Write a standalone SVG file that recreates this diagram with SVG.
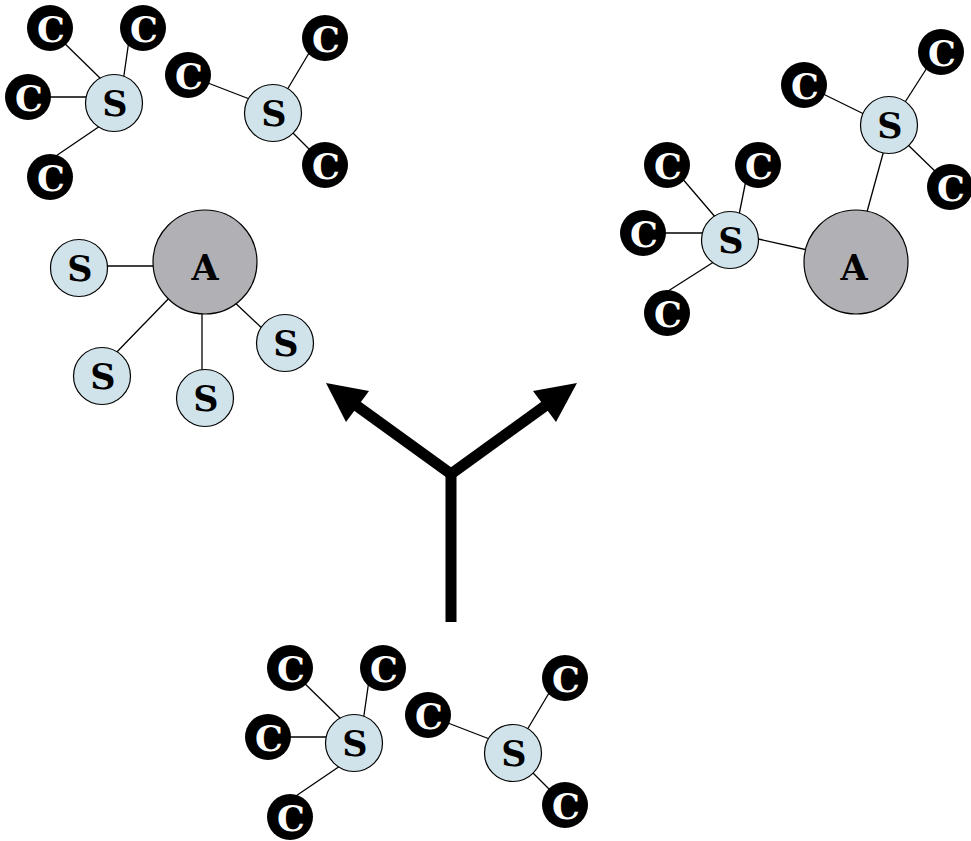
<svg xmlns="http://www.w3.org/2000/svg" width="971" height="841" viewBox="0 0 971 841">
<defs>
<style>
.e{stroke:#000;stroke-width:1.3;fill:none}
.s circle{fill:#d1e3ea;stroke:#000;stroke-width:1.2}
.a circle{fill:#b1b1b5;stroke:#000;stroke-width:1.2}
.c circle{fill:#000}
text{font-family:"DejaVu Serif","Liberation Serif",serif;font-weight:bold;font-size:35px;text-anchor:middle}
.s text,.a text{fill:#000}
.c text{fill:#fff}
.arr{stroke:#000;stroke-width:11;fill:none;stroke-linejoin:miter}
</style>
</defs>
<rect width="971" height="841" fill="#fff"/>
<g id="connectors">
<line class="e" x1="55" y1="34" x2="102" y2="80"/>
<line class="e" x1="129" y1="40" x2="123" y2="82"/>
<line class="e" x1="35" y1="97" x2="92" y2="97"/>
<line class="e" x1="50" y1="160" x2="100" y2="126"/>
<line class="e" x1="195" y1="78" x2="252" y2="100"/>
<line class="e" x1="312" y1="48" x2="284" y2="95"/>
<line class="e" x1="288" y1="128" x2="318" y2="158"/>
<line class="e" x1="295" y1="674" x2="342" y2="720"/>
<line class="e" x1="369" y1="680" x2="363" y2="722"/>
<line class="e" x1="275" y1="737" x2="332" y2="737"/>
<line class="e" x1="290" y1="800" x2="340" y2="766"/>
<line class="e" x1="435" y1="718" x2="492" y2="740"/>
<line class="e" x1="552" y1="688" x2="524" y2="735"/>
<line class="e" x1="528" y1="768" x2="558" y2="798"/>
<line class="e" x1="100" y1="266" x2="160" y2="266"/>
<line class="e" x1="175" y1="292" x2="112" y2="357"/>
<line class="e" x1="202" y1="300" x2="202" y2="375"/>
<line class="e" x1="230" y1="298" x2="266" y2="332"/>
<line class="e" x1="815" y1="90" x2="870" y2="117"/>
<line class="e" x1="932" y1="60" x2="900" y2="110"/>
<line class="e" x1="905" y1="142" x2="940" y2="176"/>
<line class="e" x1="884" y1="150" x2="862" y2="230"/>
<line class="e" x1="675" y1="170" x2="722" y2="225"/>
<line class="e" x1="747" y1="175" x2="737" y2="225"/>
<line class="e" x1="655" y1="233" x2="712" y2="233"/>
<line class="e" x1="665" y1="293" x2="720" y2="258"/>
<line class="e" x1="745" y1="236" x2="830" y2="255"/>
<path class="arr" d="M451,622 L451,472"/>
<path class="arr" d="M357,406 L451,474 L545,406"/>
<polygon points="326,383 369,391 346,422" fill="#000"/>
<polygon points="577,383 533,391 556,422" fill="#000"/>
</g>
<g id="tl-s1" class="s"><circle cx="114" cy="103" r="28.5"/><text x="115" y="116">S</text></g>
<g id="tl-c1" class="c"><circle cx="50" cy="28" r="23"/><text x="51" y="42">C</text></g>
<g id="tl-c2" class="c"><circle cx="143" cy="28" r="23"/><text x="144" y="42">C</text></g>
<g id="tl-c3" class="c"><circle cx="28" cy="97" r="23"/><text x="29" y="111">C</text></g>
<g id="tl-c4" class="c"><circle cx="50" cy="177" r="23"/><text x="51" y="191">C</text></g>
<g id="tl-s2" class="s"><circle cx="273" cy="113" r="28.5"/><text x="274" y="126">S</text></g>
<g id="tl-c5" class="c"><circle cx="188" cy="75" r="23"/><text x="189" y="89">C</text></g>
<g id="tl-c6" class="c"><circle cx="325" cy="38" r="23"/><text x="326" y="52">C</text></g>
<g id="tl-c7" class="c"><circle cx="325" cy="165" r="23"/><text x="326" y="179">C</text></g>
<g id="b-s1" class="s"><circle cx="354" cy="743" r="28.5"/><text x="355" y="756">S</text></g>
<g id="b-c1" class="c"><circle cx="290" cy="668" r="23"/><text x="291" y="682">C</text></g>
<g id="b-c2" class="c"><circle cx="383" cy="668" r="23"/><text x="384" y="682">C</text></g>
<g id="b-c3" class="c"><circle cx="268" cy="737" r="23"/><text x="269" y="751">C</text></g>
<g id="b-c4" class="c"><circle cx="290" cy="817" r="23"/><text x="291" y="831">C</text></g>
<g id="b-s2" class="s"><circle cx="513" cy="753" r="28.5"/><text x="514" y="766">S</text></g>
<g id="b-c5" class="c"><circle cx="428" cy="715" r="23"/><text x="429" y="729">C</text></g>
<g id="b-c6" class="c"><circle cx="565" cy="678" r="23"/><text x="566" y="692">C</text></g>
<g id="b-c7" class="c"><circle cx="565" cy="805" r="23"/><text x="566" y="819">C</text></g>
<g id="l-a" class="a"><circle cx="205" cy="262" r="52"/><text x="205" y="280">A</text></g>
<g id="l-s1" class="s"><circle cx="79" cy="268" r="28.5"/><text x="80" y="281">S</text></g>
<g id="l-s2" class="s"><circle cx="102" cy="376" r="28.5"/><text x="103" y="389">S</text></g>
<g id="l-s3" class="s"><circle cx="205" cy="398" r="28.5"/><text x="206" y="411">S</text></g>
<g id="l-s4" class="s"><circle cx="285" cy="343" r="28.5"/><text x="286" y="356">S</text></g>
<g id="r-a" class="a"><circle cx="856" cy="262" r="52"/><text x="854" y="280">A</text></g>
<g id="r-s1" class="s"><circle cx="889" cy="125" r="28.5"/><text x="890" y="138">S</text></g>
<g id="r-c1" class="c"><circle cx="804" cy="85" r="23"/><text x="805" y="99">C</text></g>
<g id="r-c2" class="c"><circle cx="941" cy="52" r="23"/><text x="942" y="66">C</text></g>
<g id="r-c3" class="c"><circle cx="950" cy="187" r="23"/><text x="951" y="201">C</text></g>
<g id="r-s2" class="s"><circle cx="730" cy="240" r="28.5"/><text x="731" y="253">S</text></g>
<g id="r-c4" class="c"><circle cx="667" cy="165" r="23"/><text x="668" y="179">C</text></g>
<g id="r-c5" class="c"><circle cx="758" cy="165" r="23"/><text x="759" y="179">C</text></g>
<g id="r-c6" class="c"><circle cx="643" cy="233" r="23"/><text x="644" y="247">C</text></g>
<g id="r-c7" class="c"><circle cx="667" cy="313" r="23"/><text x="668" y="327">C</text></g>
</svg>
